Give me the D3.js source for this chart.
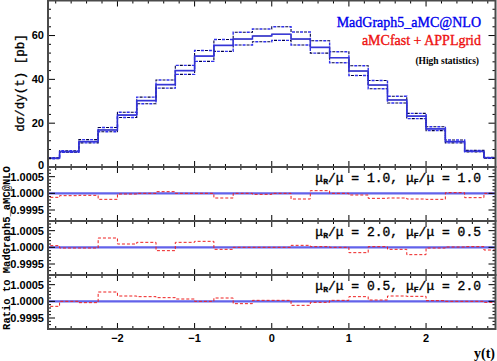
<!DOCTYPE html>
<html><head><meta charset="utf-8">
<script src="https://cdn.jsdelivr.net/npm/d3@7"></script>
<style>body{margin:0;background:#fff}svg{display:block}</style>
</head><body><svg id="c" width="497" height="361"></svg>
<script>
const binEdges = [-3,-2.75,-2.5,-2.25,-2,-1.75,-1.5,-1.25,-1,-0.75,-0.5,-0.25,0,0.25,0.5,0.75,1,1.25,1.5,1.75,2,2.25,2.5,2.75,3];
const central = [4.0,7.0,11.6,16.9,23.7,30.3,37.6,44.0,50.6,55.5,58.4,59.8,60.6,58.4,54.6,49.9,43.8,37.4,30.6,23.2,17.4,11.6,7.2,4.2];
const upper   = [4.2,7.4,12.5,18.0,25.0,31.9,39.7,46.4,53.2,58.2,61.5,63.0,64.0,61.6,57.6,52.6,46.2,39.5,32.3,24.5,18.4,12.3,7.6,4.4];
const lower   = [3.8,6.7,11.0,16.1,22.6,28.9,36.0,42.3,48.2,52.8,55.7,57.2,57.8,55.7,52.0,47.6,41.8,35.7,29.2,22.1,16.6,11.0,6.9,4.0];
const ratio1 = [0.99988,0.99993,0.99994,0.99982,0.99998,1.00000,1.00005,1.00000,1.00000,0.99986,1.00000,0.99997,1.00000,0.99983,1.00008,1.00000,0.99995,0.99985,0.99986,0.99983,0.99982,1.00002,0.99987,1.00000];
const ratio2 = [1.00005,0.99998,0.99998,1.00028,1.00010,1.00015,0.99990,1.00015,1.00018,0.99994,1.00000,1.00000,1.00000,1.00006,1.00002,1.00000,0.99984,1.00002,0.99994,0.99978,0.99998,1.00001,1.00002,0.99992];
const ratio3 = [0.99985,1.00000,0.99996,1.00028,1.00016,1.00014,1.00011,1.00007,1.00000,1.00010,0.99993,1.00003,1.00003,0.99988,0.99997,1.00003,1.00014,1.00004,1.00016,1.00015,1.00002,1.00000,1.00000,0.99997];
const scalePairs = [["1.0","1.0"],["2.0","0.5"],["0.5","2.0"]];
const mainTicks = [0,20,40,60];
const ratioTicks = [0.9995,1.0,1.0005];
const xTicks = [-2,-1,0,1,2];

const svg = d3.select("#c");
const L = 48, R = 495.5;
const x = d3.scaleLinear().domain([-2.9,2.9]).range([L,R]);
const panels = [{top:0.5,bot:167},{top:167,bot:221},{top:221,bot:275},{top:275,bot:329}];
const yMain = d3.scaleLinear().domain([0,76]).range([panels[0].bot,panels[0].top]);
const ratioScales = [1,2,3].map(i => d3.scaleLinear().domain([0.99917,1.00079]).range([panels[i].bot,panels[i].top]));

const defs = svg.append("defs");
panels.forEach((p,i)=>{
  defs.append("clipPath").attr("id","cp"+i).append("rect")
    .attr("x",L).attr("y",p.top).attr("width",R-L).attr("height",p.bot-p.top);
});

function stepPts(vals){
  const pts=[];
  vals.forEach((v,i)=>{pts.push([binEdges[i],v]);pts.push([binEdges[i+1],v]);});
  return pts;
}
const font = "'Liberation Sans', Arial, sans-serif";
const frameColor = "#4a4a4a";

// main panel histograms
const gMain = svg.append("g").attr("clip-path","url(#cp0)");
const lineMain = d3.line().x(d=>x(d[0])).y(d=>yMain(d[1]));
[upper,lower].forEach(arr=>{
  gMain.append("path").attr("d",lineMain(stepPts(arr))).attr("fill","none")
    .attr("stroke","#000044").attr("stroke-width",1.1).attr("stroke-dasharray","3,5");
  gMain.append("path").attr("d",lineMain(stepPts(arr))).attr("fill","none")
    .attr("stroke","#3030ee").attr("stroke-width",1.4).attr("stroke-dasharray","3,5").attr("stroke-dashoffset",4);
});
gMain.append("path").attr("d",lineMain(stepPts(central))).attr("fill","none")
  .attr("stroke","#000033").attr("stroke-width",1);
gMain.append("path").attr("d",lineMain(stepPts(central))).attr("fill","none")
  .attr("stroke","#3a3aee").attr("stroke-width",1.6).attr("opacity",0.85);

// ratio panels
[ratio1,ratio2,ratio3].forEach((arr,k)=>{
  const y = ratioScales[k];
  const g = svg.append("g").attr("clip-path",`url(#cp${k+1})`);
  const ln = d3.line().x(d=>x(d[0])).y(d=>y(d[1]));
  g.append("path").attr("d",ln([[binEdges[0],1],[binEdges[binEdges.length-1],1]]))
    .attr("stroke","#6262ea").attr("stroke-width",2.4).attr("fill","none");
  g.append("path").attr("d",ln(stepPts(arr))).attr("fill","none")
    .attr("stroke","#ee2020").attr("stroke-width",1).attr("stroke-dasharray","3,2");
});

// x ticks
function xTicksFor(p){
  const g = svg.append("g");
  const minor = d3.range(-28,29,2).map(v=>v/10);
  minor.forEach(v=>{
    const isMajor = Math.abs(v-Math.round(v))<1e-9;
    const len = isMajor?6:3;
    g.append("line").attr("x1",x(v)).attr("x2",x(v)).attr("y1",p.bot).attr("y2",p.bot-len).attr("stroke","#000").attr("stroke-width",1);
    g.append("line").attr("x1",x(v)).attr("x2",x(v)).attr("y1",p.top).attr("y2",p.top+len).attr("stroke","#000").attr("stroke-width",1);
  });
}
panels.forEach(p=>xTicksFor(p));

// main y ticks
const gy = svg.append("g");
d3.range(0,77,4).forEach(v=>{
  const major = v%20===0;
  const len = major?7:3;
  gy.append("line").attr("x1",L).attr("x2",L+len).attr("y1",yMain(v)).attr("y2",yMain(v)).attr("stroke","#000");
  gy.append("line").attr("x1",R).attr("x2",R-len).attr("y1",yMain(v)).attr("y2",yMain(v)).attr("stroke","#000");
});
mainTicks.forEach(v=>{
  gy.append("text").attr("x",44).attr("y",yMain(v)+(v===0?2:3.5)).attr("text-anchor","end")
    .attr("font-family",font).attr("font-weight","bold").attr("font-size",11).text(v);
});
// ratio y ticks
ratioScales.forEach((y,k)=>{
  const p = panels[k+1];
  d3.range(-8,9).map(i=>1+i*0.0001).forEach(v=>{
    const yy=y(v); if(yy<p.top+1||yy>p.bot-1) return;
    const n = Math.round((v-1)*10000);
    const major = n%5===0;
    const len = major?7:3;
    gy.append("line").attr("x1",L).attr("x2",L+len).attr("y1",yy).attr("y2",yy).attr("stroke","#000");
    gy.append("line").attr("x1",R).attr("x2",R-len).attr("y1",yy).attr("y2",yy).attr("stroke","#000");
  });
  ratioTicks.forEach(v=>{
    gy.append("text").attr("x",44).attr("y",y(v)+4).attr("text-anchor","end")
      .attr("font-family",font).attr("font-weight","bold").attr("font-size",11).text(v.toFixed(4));
  });
});

// frames
panels.forEach(p=>{
  svg.append("rect").attr("x",L).attr("y",p.top).attr("width",R-L).attr("height",p.bot-p.top)
    .attr("fill","none").attr("stroke",frameColor).attr("stroke-width",2);
});

// x tick labels
xTicks.forEach(v=>{
  svg.append("text").attr("x",x(v)).attr("y",342).attr("text-anchor","middle")
    .attr("font-family",font).attr("font-weight","bold").attr("font-size",11)
    .text(v<0?"\u2212"+Math.abs(v):v);
});
svg.append("text").attr("x",495).attr("y",358).attr("text-anchor","end")
  .attr("font-family","'Liberation Serif', serif").attr("font-weight","bold").attr("font-size",14).text("y(t)");

// y labels
svg.append("text").attr("transform","translate(24,83) rotate(-90)").attr("text-anchor","middle")
  .attr("font-family","'Liberation Mono', monospace").attr("font-size",12.5)
  .attr("stroke","#000").attr("stroke-width",0.3).text("dσ/dy(t) [pb]");
svg.append("text").attr("transform","translate(10,248) rotate(-90)").attr("text-anchor","middle")
  .attr("font-family","'Liberation Mono', monospace").attr("font-weight","bold").attr("font-size",10.5).text("Ratio to MadGraph5_aMC@NLO");

// legend
svg.append("text").attr("x",481).attr("y",27).attr("text-anchor","end")
  .attr("font-family","'Liberation Serif', serif").attr("font-size",14).attr("fill","#0000ee")
  .attr("stroke","#0000ee").attr("stroke-width",0.35).text("MadGraph5_aMC@NLO");
svg.append("text").attr("x",481).attr("y",45).attr("text-anchor","end")
  .attr("font-family","'Liberation Serif', serif").attr("font-size",14).attr("fill","#ee1111")
  .attr("stroke","#ee1111").attr("stroke-width",0.35).text("aMCfast + APPLgrid");
svg.append("text").attr("x",479).attr("y",64).attr("text-anchor","end")
  .attr("font-family","'Liberation Serif', serif").attr("font-weight","bold").attr("font-size",9.5).text("(High statistics)");

// ratio labels with subscripts
scalePairs.forEach((sp,k)=>{
  const t = svg.append("text").attr("x",481).attr("y",panels[k+1].top+15).attr("text-anchor","end")
    .attr("font-family","'Liberation Mono', monospace").attr("font-size",13)
    .attr("stroke","#000").attr("stroke-width",0.35);
  t.append("tspan").text("μ");
  t.append("tspan").attr("font-size",8).attr("font-weight","bold").attr("dy",2).text("R");
  t.append("tspan").attr("dy",-2).text("/μ = "+sp[0]+", μ");
  t.append("tspan").attr("font-size",8).attr("font-weight","bold").attr("dy",2).text("F");
  t.append("tspan").attr("dy",-2).text("/μ = "+sp[1]);
});
</script></body></html>
